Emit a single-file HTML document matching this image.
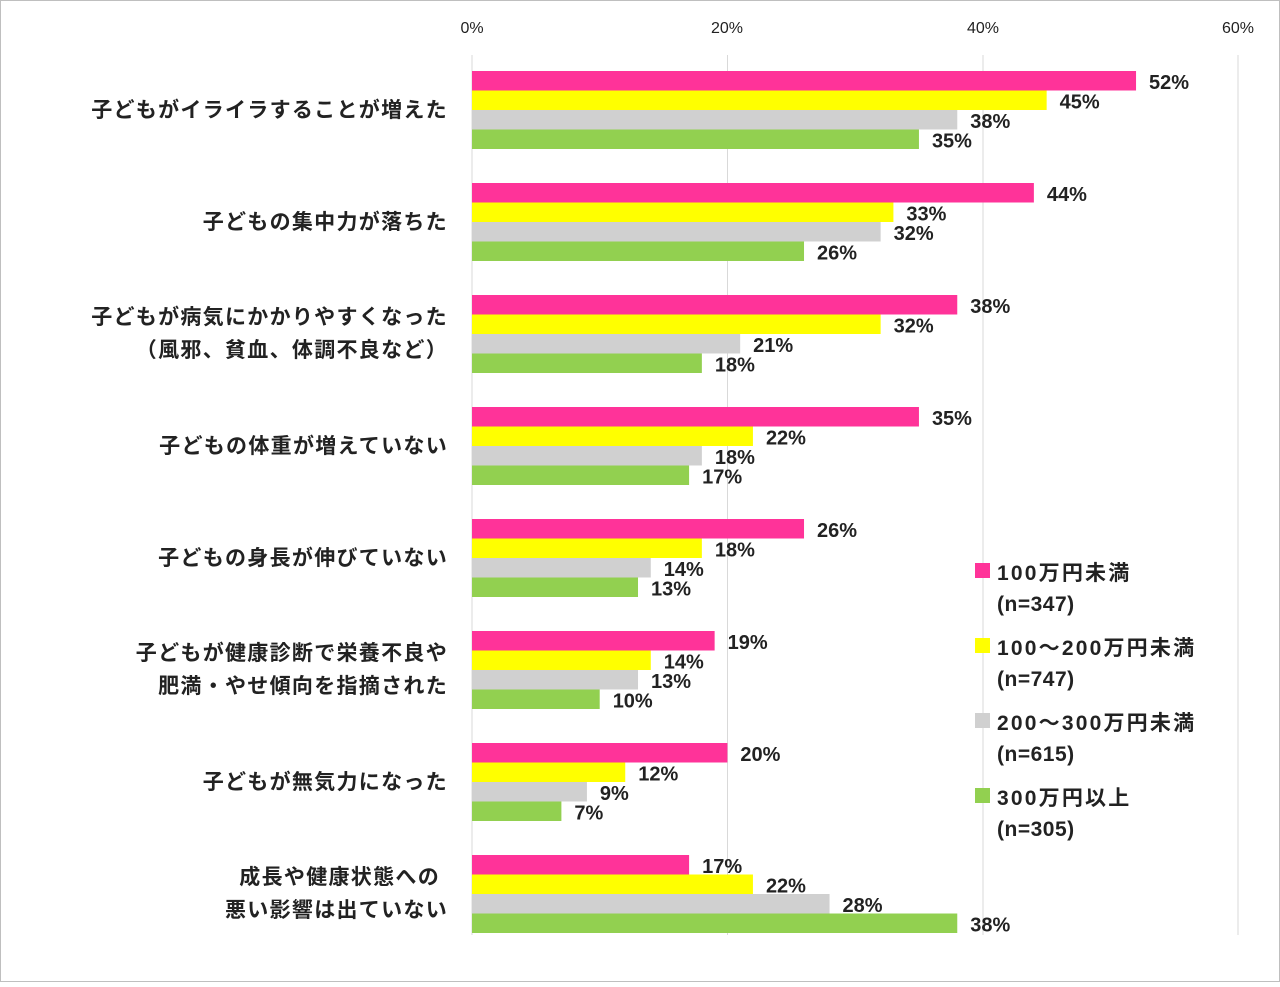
<!DOCTYPE html>
<html><head><meta charset="utf-8"><style>
body{margin:0;background:#fff;}
svg text{font-family:"Liberation Sans","Noto Sans CJK JP",sans-serif;font-weight:bold;fill:#222;}
</style></head><body>
<svg width="1280" height="982" viewBox="0 0 1280 982" xmlns="http://www.w3.org/2000/svg">
<rect x="0.5" y="0.5" width="1279" height="981" fill="#fff" stroke="#bfbfbf"/>
<g stroke="#d9d9d9" stroke-width="1">
<line x1="472" y1="55" x2="472" y2="935"/>
<line x1="727.5" y1="55" x2="727.5" y2="935"/>
<line x1="983" y1="55" x2="983" y2="935"/>
<line x1="1238" y1="55" x2="1238" y2="935"/>
</g>
<g font-size="16" text-anchor="middle">
<text x="472" y="33" style="font-weight:normal">0%</text>
<text x="727" y="33" style="font-weight:normal">20%</text>
<text x="983" y="33" style="font-weight:normal">40%</text>
<text x="1238" y="33" style="font-weight:normal">60%</text>
</g>
<g id="bars"></g>
<g font-size="21" text-anchor="end" letter-spacing="1.3">
<text x="448" y="117">子どもがイライラすることが増えた</text>
<text x="448" y="229">子どもの集中力が落ちた</text>
<text x="448" y="324">子どもが病気にかかりやすくなった</text>
<text x="448" y="357">（風邪、貧血、体調不良など）</text>
<text x="448" y="453">子どもの体重が増えていない</text>
<text x="448" y="565">子どもの身長が伸びていない</text>
<text x="448" y="660">子どもが健康診断で栄養不良や</text>
<text x="448" y="693">肥満・やせ傾向を指摘された</text>
<text x="448" y="789">子どもが無気力になった</text>
<text x="440" y="884">成長や健康状態への</text>
<text x="448" y="917">悪い影響は出ていない</text>
</g>
<g font-size="21" letter-spacing="2.2">
<rect x="975" y="563" width="15" height="15" fill="#ff3399"/>
<text x="997" y="580">100万円未満</text><text x="997" y="611" letter-spacing="0.5">(n=347)</text>
<rect x="975" y="638" width="15" height="15" fill="#ffff00"/>
<text x="997" y="655">100～200万円未満</text><text x="997" y="686" letter-spacing="0.5">(n=747)</text>
<rect x="975" y="713" width="15" height="15" fill="#d0d0d0"/>
<text x="997" y="730">200～300万円未満</text><text x="997" y="761" letter-spacing="0.5">(n=615)</text>
<rect x="975" y="788" width="15" height="15" fill="#92d050"/>
<text x="997" y="805">300万円以上</text><text x="997" y="836" letter-spacing="0.5">(n=305)</text>
</g>
</svg>
<script>
var d=[[52,45,38,35],[44,33,32,26],[38,32,21,18],[35,22,18,17],[26,18,14,13],[19,14,13,10],[20,12,9,7],[17,22,28,38]];
var c=["#ff3399","#ffff00","#d0d0d0","#92d050"];
var g=document.getElementById("bars"),s="";
for(var i=0;i<8;i++)for(var j=0;j<4;j++){var y=71+i*112+j*19.5,w=d[i][j]*12.77;
s+='<rect x="472" y="'+y+'" width="'+w+'" height="19.5" fill="'+c[j]+'"/>';
s+='<text x="'+(472+w+13)+'" y="'+(y+18)+'" font-size="20">'+d[i][j]+'%</text>';}
g.innerHTML=s;
</script>
</body></html>
